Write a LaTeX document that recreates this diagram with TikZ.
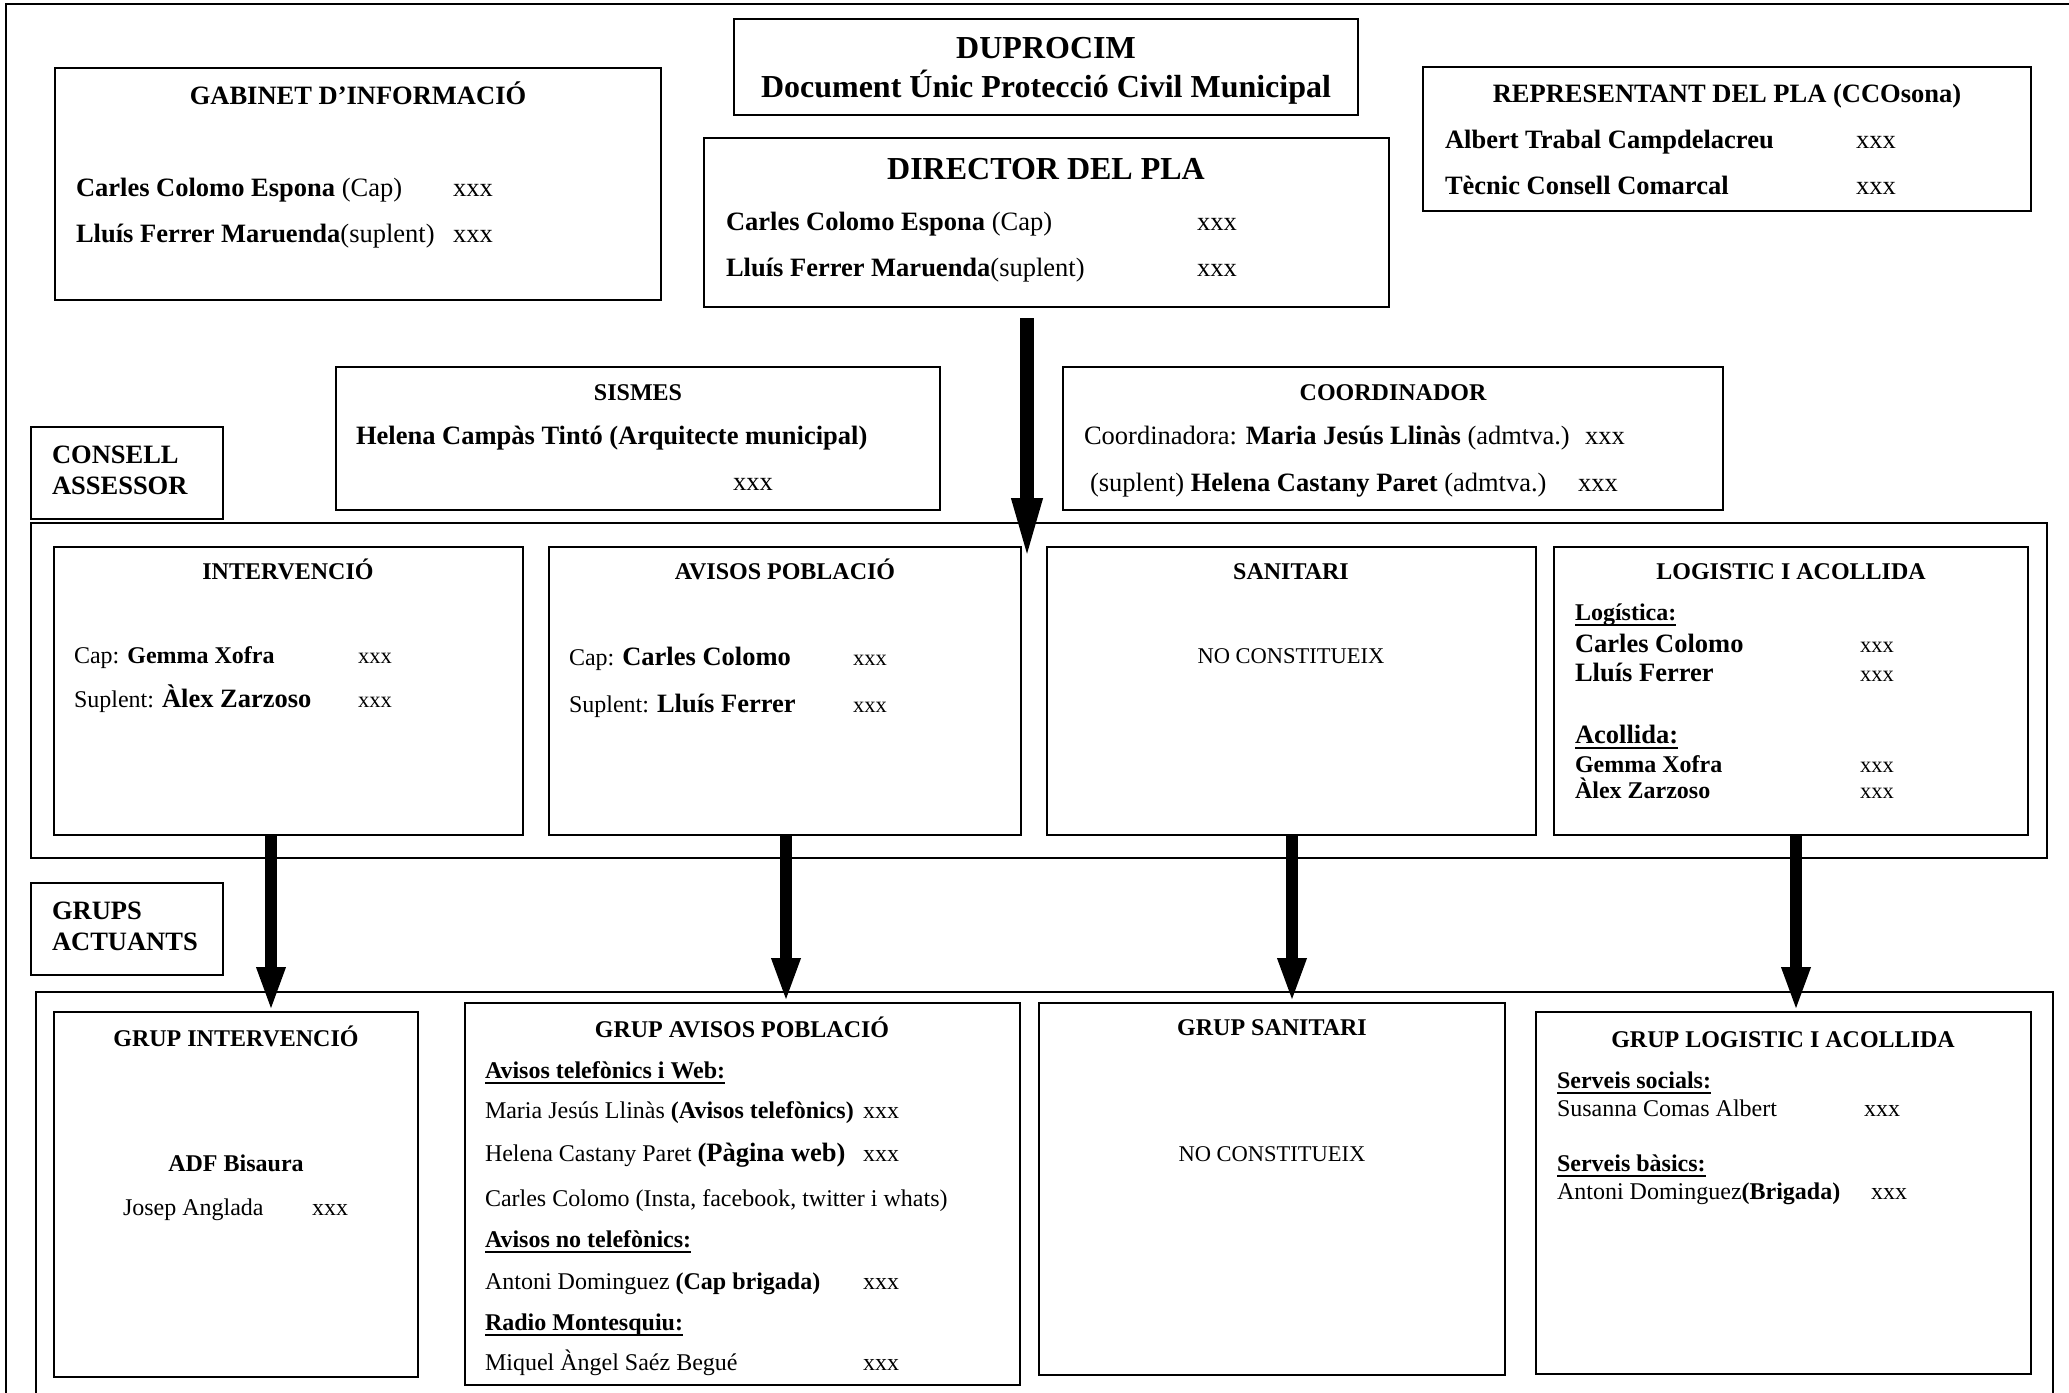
\documentclass[tikz,border=0pt]{standalone}
\usepackage{fontspec}
\setmainfont{Liberation Serif}
\usetikzlibrary{arrows.meta}
\newcommand\szA{\fontsize{24}{28}\selectfont}
\newcommand\szB{\fontsize{26.5}{31}\selectfont}
\newcommand\szC{\fontsize{32}{38}\selectfont}
\newcommand\szS{\fontsize{22.5}{27}\selectfont}
\newcommand\ulx[1]{\setbox0\hbox{#1}\rlap{\rule[-5.5pt]{\wd0}{2pt}}\box0}
\begin{document}
\begin{tikzpicture}[x=1pt,y=-1pt,
  bx/.style={draw=black, line width=2pt, anchor=north west, inner sep=0pt, outer sep=0pt},
  tl/.style={anchor=base west, inner sep=0pt, outer sep=0pt},
  tc/.style={anchor=base, inner sep=0pt, outer sep=0pt},
  bigarrow/.style={line width=14pt, -{Triangle[length=65pt, width=27pt]}},
  arr/.style={line width=12pt, -{Triangle[length=45pt, width=26pt]}}]
\useasboundingbox (0,0) rectangle (2069,1392);
\clip (0,0) rectangle (2069,1392);
% outer frame
\draw[line width=2pt] (6,1410) -- (6,4) -- (2080,4);
% containers
\node[bx, minimum width=2016, minimum height=335] (cons) at (31,523) {};
\node[bx, minimum width=2017, minimum height=430] (grc) at (36,992) {};
% boxes
\node[bx, minimum width=606, minimum height=232] (gab) at (55,68) {};
\node[bx, minimum width=624, minimum height=96] (dup) at (734,19) {};
\node[bx, minimum width=685, minimum height=169] (dir) at (704,138) {};
\node[bx, minimum width=608, minimum height=144] (rep) at (1423,67) {};
\node[bx, minimum width=604, minimum height=143] (sis) at (336,367) {};
\node[bx, minimum width=660, minimum height=143] (coo) at (1063,367) {};
\node[bx, minimum width=192, minimum height=92] (ca) at (31,427) {};
\node[bx, minimum width=469, minimum height=288] (int) at (54,547) {};
\node[bx, minimum width=472, minimum height=288] (avi) at (549,547) {};
\node[bx, minimum width=489, minimum height=288] (san) at (1047,547) {};
\node[bx, minimum width=474, minimum height=288] (log) at (1554,547) {};
\node[bx, minimum width=192, minimum height=92] (ga) at (31,883) {};
\node[bx, minimum width=364, minimum height=365] (gint) at (54,1012) {};
\node[bx, minimum width=555, minimum height=382] (gavi) at (465,1003) {};
\node[bx, minimum width=466, minimum height=372] (gsan) at (1039,1003) {};
\node[bx, minimum width=495, minimum height=362] (glog) at (1536,1012) {};
% arrows
\coordinate (xd) at (1027,0);
\coordinate (x1) at (271,0);
\coordinate (x2) at (786,0);
\coordinate (x3) at (1292,0);
\coordinate (x4) at (1796,0);
\path (dir.south -| xd) ++(0,11) coordinate (dstart);
\coordinate (dtip) at (1027,563);
\draw[bigarrow] (dstart) -- (dtip);
\draw[arr] (int.south -| x1) -- (gint.north -| x1);
\draw[arr] (avi.south -| x2) -- (gavi.north -| x2);
\draw[arr] (san.south -| x3) -- (gsan.north -| x3);
\draw[arr] (log.south -| x4) -- (glog.north -| x4);
% GABINET
\node[tc] (gabh) at (358,104) {\szB\bfseries GABINET D’INFORMACIÓ};
\node[tl] (gab1) at (76,196) {\szB\textbf{Carles Colomo Espona} (Cap)};
\node[tl] (gab1x) at (453,196) {\szB xxx};
\node[tl] (gab2) at (76,242) {\szB\textbf{Lluís Ferrer Maruenda}(suplent)};
\node[tl] (gab2x) at (453,242) {\szB xxx};
% DUPROCIM
\node[tc] (duph) at (1046,58) {\szC\bfseries DUPROCIM};
\node[tc] (dup2) at (1046,97) {\szC\bfseries Document Únic Protecció Civil Municipal};
% DIRECTOR
\node[tc] (dirh) at (1046,179) {\szC\bfseries DIRECTOR DEL PLA};
\node[tl] (dir1) at (726,230) {\szB\textbf{Carles Colomo Espona} (Cap)};
\node[tl] (dir1x) at (1197,230) {\szB xxx};
\node[tl] (dir2) at (726,276) {\szB\textbf{Lluís Ferrer Maruenda}(suplent)};
\node[tl] (dir2x) at (1197,276) {\szB xxx};
% REPRESENTANT
\node[tc] (reph) at (1727,102) {\szB\bfseries REPRESENTANT DEL PLA (CCOsona)};
\node[tl] (rep1) at (1445,148) {\szB\bfseries Albert Trabal Campdelacreu};
\node[tl] (rep1x) at (1856,148) {\szB xxx};
\node[tl] (rep2) at (1445,194) {\szB\bfseries Tècnic Consell Comarcal};
\node[tl] (rep2x) at (1856,194) {\szB xxx};
% SISMES
\node[tc] (sish) at (638,400) {\szA\bfseries SISMES};
\node[tl] (sis1) at (356,444) {\szB\bfseries Helena Campàs Tintó (Arquitecte municipal)};
\node[tl] (sis1x) at (733,490) {\szB xxx};
% COORDINADOR
\node[tc] (cooh) at (1393,400) {\szA\bfseries COORDINADOR};
\node[tl] (coo1) at (1084,444) {\szB Coordinadora: \textbf{Maria Jesús Llinàs} (admtva.)};
\node[tl] (coo1x) at (1585,444) {\szB xxx};
\node[tl] (coo2) at (1090,491) {\szB (suplent) \textbf{Helena Castany Paret} (admtva.)};
\node[tl] (coo2x) at (1578,491) {\szB xxx};
% CONSELL ASSESSOR
\node[tl] (ca1) at (52,463) {\szB\bfseries CONSELL};
\node[tl] (ca2) at (52,494) {\szB\bfseries ASSESSOR};
% INTERVENCIO
\node[tc] (inth) at (288,579) {\szA\bfseries INTERVENCIÓ};
\node[tl] (int1) at (74,663) {\szA Cap: \textbf{Gemma Xofra}};
\node[tl] (int1x) at (358,663) {\szS xxx};
\node[tl] (int2) at (74,707) {\szA Suplent: {\szB\bfseries Àlex Zarzoso}};
\node[tl] (int2x) at (358,707) {\szS xxx};
% AVISOS POBLACIO
\node[tc] (avih) at (785,579) {\szA\bfseries AVISOS POBLACIÓ};
\node[tl] (avi1) at (569,665) {\szA Cap: {\szB\bfseries Carles Colomo}};
\node[tl] (avi1x) at (853,665) {\szS xxx};
\node[tl] (avi2) at (569,712) {\szA Suplent: {\szB\bfseries Lluís Ferrer}};
\node[tl] (avi2x) at (853,712) {\szS xxx};
% SANITARI
\node[tc] (sanh) at (1291,579) {\szA\bfseries SANITARI};
\node[tc] (san1) at (1291,663) {\szS NO CONSTITUEIX};
% LOGISTIC
\node[tc] (logh) at (1791,579) {\szA\bfseries LOGISTIC I ACOLLIDA};
\node[tl] (log1) at (1575,620) {\szA\bfseries\ulx{Logística:}};
\node[tl] (log2) at (1575,652) {\szB\bfseries Carles Colomo};
\node[tl] (log2x) at (1860,652) {\szS xxx};
\node[tl] (log3) at (1575,681) {\szB\bfseries Lluís Ferrer};
\node[tl] (log3x) at (1860,681) {\szS xxx};
\node[tl] (log4) at (1575,743) {\szB\bfseries\ulx{Acollida:}};
\node[tl] (log5) at (1575,772) {\szA\bfseries Gemma Xofra};
\node[tl] (log5x) at (1860,772) {\szS xxx};
\node[tl] (log6) at (1575,798) {\szA\bfseries Àlex Zarzoso};
\node[tl] (log6x) at (1860,798) {\szS xxx};
% GRUPS ACTUANTS
\node[tl] (ga1) at (52,919) {\szB\bfseries GRUPS};
\node[tl] (ga2) at (52,950) {\szB\bfseries ACTUANTS};
% GRUP INTERVENCIO
\node[tc] (ginth) at (236,1046) {\szA\bfseries GRUP INTERVENCIÓ};
\node[tc] (gint1) at (236,1171) {\szA\bfseries ADF Bisaura};
\node[tl] (gint2) at (123,1215) {\szA Josep Anglada};
\node[tl] (gint2x) at (312,1215) {\szA xxx};
% GRUP AVISOS
\node[tc] (gavih) at (742,1037) {\szA\bfseries GRUP AVISOS POBLACIÓ};
\node[tl] (gavi1) at (485,1078) {\szA\bfseries\ulx{Avisos telefònics i Web:}};
\node[tl] (gavi2) at (485,1118) {\szA Maria Jesús Llinàs \textbf{(Avisos telefònics)}};
\node[tl] (gavi2x) at (863,1118) {\szA xxx};
\node[tl] (gavi3) at (485,1161) {\szA Helena Castany Paret {\szB\bfseries(Pàgina web)}};
\node[tl] (gavi3x) at (863,1161) {\szA xxx};
\node[tl] (gavi4) at (485,1206) {\szA Carles Colomo (Insta, facebook, twitter i whats)};
\node[tl] (gavi5) at (485,1247) {\szA\bfseries\ulx{Avisos no telefònics:}};
\node[tl] (gavi6) at (485,1289) {\szA Antoni Dominguez \textbf{(Cap brigada)}};
\node[tl] (gavi6x) at (863,1289) {\szA xxx};
\node[tl] (gavi7) at (485,1330) {\szA\bfseries\ulx{Radio Montesquiu:}};
\node[tl] (gavi8) at (485,1370) {\szA Miquel Àngel Saéz Begué};
\node[tl] (gavi8x) at (863,1370) {\szA xxx};
% GRUP SANITARI
\node[tc] (gsanh) at (1272,1035) {\szA\bfseries GRUP SANITARI};
\node[tc] (gsan1) at (1272,1161) {\szS NO CONSTITUEIX};
% GRUP LOGISTIC
\node[tc] (glogh) at (1783,1047) {\szA\bfseries GRUP LOGISTIC I ACOLLIDA};
\node[tl] (glog1) at (1557,1088) {\szA\bfseries\ulx{Serveis socials:}};
\node[tl] (glog2) at (1557,1116) {\szA Susanna Comas Albert};
\node[tl] (glog2x) at (1864,1116) {\szA xxx};
\node[tl] (glog3) at (1557,1171) {\szA\bfseries\ulx{Serveis bàsics:}};
\node[tl] (glog4) at (1557,1199) {\szA Antoni Dominguez\textbf{(Brigada)}};
\node[tl] (glog4x) at (1871,1199) {\szA xxx};
\end{tikzpicture}
\end{document}
